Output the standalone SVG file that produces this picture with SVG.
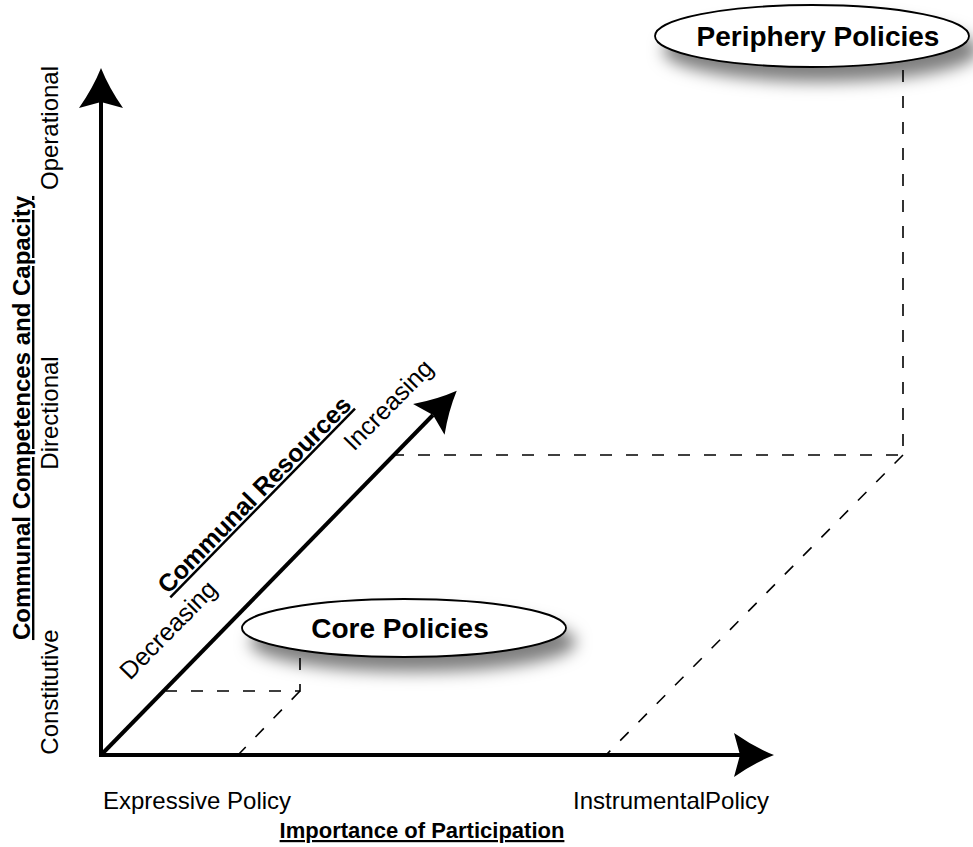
<svg xmlns="http://www.w3.org/2000/svg" width="973" height="847" viewBox="0 0 973 847">
  <defs>
    <!-- stealth-style arrowhead; reference point sits at the notch so the shaft ends inside it -->
    <marker id="head" markerUnits="userSpaceOnUse" markerWidth="44" markerHeight="48" viewBox="-2 -24 44 48" refX="6" refY="0" orient="auto" overflow="visible">
      <path d="M40,0 Q20,-8 0,-22 L6,0 L0,22 Q20,8 40,0 Z" fill="#000"/>
    </marker>
    <filter id="shadow" x="-20%" y="-50%" width="150%" height="260%">
      <feDropShadow dx="9" dy="14" stdDeviation="8" flood-color="#000" flood-opacity="0.5"/>
    </filter>
  </defs>
  <style>
    .axis { stroke: #000; stroke-width: 4; fill: none; marker-end: url(#head); }
    .guide { stroke: #000; stroke-width: 1.6; fill: none; stroke-dasharray: 12 14; }
    .bubble { fill: #fff; stroke: #000; stroke-width: 1.8; filter: url(#shadow); }
    text { font-family: "Liberation Sans", Arial, sans-serif; fill: #000; }
    .lbl { font-size: 24px; }
    .diag { font-size: 25px; }
    .title { font-size: 24px; font-weight: bold; text-decoration: underline; }
    .node { font-size: 28px; font-weight: bold; text-anchor: middle; }
  </style>
  <rect width="973" height="847" fill="#fff"/>

  <!-- dashed projection guides -->
  <g id="connectors">
    <path class="guide" d="M903,70 L903,455 L396,455"/>
    <path class="guide" d="M903,455 L606,755"/>
    <path class="guide" d="M300,658 L300,691 L166,691"/>
    <path class="guide" d="M300,691 L238,755"/>
  </g>

  <!-- the three axes -->
  <g id="axes">
    <line class="axis" x1="101" y1="757" x2="101" y2="102"/>
    <line class="axis" x1="99" y1="755" x2="740" y2="755"/>
    <line class="axis" x1="101" y1="755" x2="433" y2="415"/>
  </g>

  <!-- axis labels -->
  <g id="labels">
    <text class="lbl" transform="translate(58,128) rotate(-90)" text-anchor="middle">Operational</text>
    <text class="lbl" transform="translate(58,413) rotate(-90)" text-anchor="middle">Directional</text>
    <text class="lbl" transform="translate(58,692) rotate(-90)" text-anchor="middle">Constitutive</text>
    <text class="title" transform="translate(30,418) rotate(-90)" text-anchor="middle">Communal Competences and Capacity</text>
    <text class="lbl" x="103" y="809">Expressive Policy</text>
    <text class="lbl" x="573" y="809">InstrumentalPolicy</text>
    <text class="title" x="422" y="838" text-anchor="middle" style="font-size:22px">Importance of Participation</text>
    <text class="title diag" transform="translate(168,595) rotate(-45.6)" style="font-size:25px">Communal Resources</text>
    <text class="diag" transform="translate(354,452) rotate(-45.6)">Increasing</text>
    <text class="diag" transform="translate(130,681) rotate(-45.6)">Decreasing</text>
  </g>

  <g id="periphery-policies">
    <ellipse class="bubble" cx="812" cy="36" rx="157" ry="31"/>
    <text class="node" x="818" y="46">Periphery Policies</text>
  </g>

  <g id="core-policies">
    <ellipse class="bubble" cx="404" cy="628" rx="162" ry="29"/>
    <text class="node" x="400" y="638">Core Policies</text>
  </g>
</svg>
